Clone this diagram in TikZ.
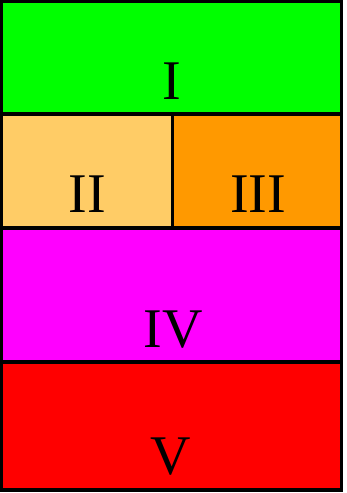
\documentclass[tikz,border=0pt]{standalone}
\usepackage{fontspec}
\setmainfont{Liberation Serif}
\definecolor{cI}{HTML}{00FF00}
\definecolor{cII}{HTML}{FFCC66}
\definecolor{cIII}{HTML}{FF9900}
\definecolor{cIV}{HTML}{FF00FF}
\definecolor{cV}{HTML}{FF0000}
\tikzset{
  region/.style={draw=black, line width=3.5pt},
  lbl/.style={anchor=base, inner sep=0pt, font=\fontsize{56}{60}\selectfont, text=black}
}
\begin{document}
\begin{tikzpicture}[x=1pt,y=-1pt]
\useasboundingbox (0,0) rectangle (346,493);
\fill[white] (0,0) rectangle (346,493);
\fill[cI] (1.5,1) rectangle (341.5,114);
\fill[cII] (1.5,114) rectangle (172.5,228);
\fill[cIII] (172.5,114) rectangle (341.5,228);
\fill[cIV] (1.5,228) rectangle (341.5,362);
\fill[cV] (1.5,362) rectangle (341.5,490);
\draw[region] (1.5,114) -- (341.5,114);
\draw[region] (1.5,228) -- (341.5,228);
\draw[region] (1.5,362) -- (341.5,362);
\draw[region] (172.5,114) -- (172.5,228);
\draw[region] (1.5,1) rectangle (341.5,490);
\node[lbl] (tI) at (172,99) {I};
\node[lbl] (tII) at (87,212) {II};
\node[lbl] (tIII) at (258,212) {III};
\node[lbl] (tIV) at (173,347) {IV};
\node[lbl] (tV) at (171,474) {V};
\end{tikzpicture}
\end{document}
